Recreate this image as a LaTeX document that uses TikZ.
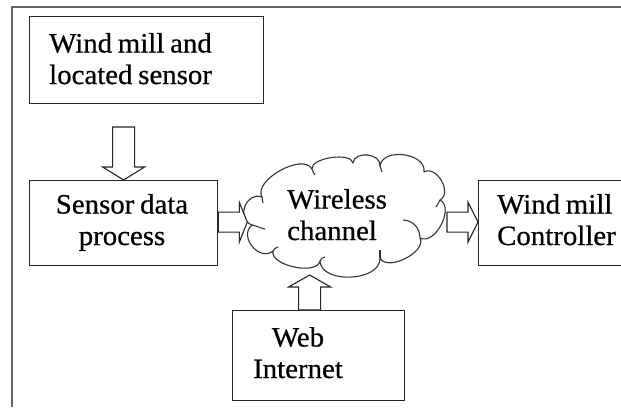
\documentclass[tikz,border=0pt]{standalone}
\usepackage{fontspec}
\setmainfont{Liberation Serif}[FakeStretch=1.03, WordSpace=0.8, FakeBold=0.6]
\usetikzlibrary{calc}
\begin{document}
\begin{tikzpicture}[x=1pt,y=-1pt,
  box/.style={draw=black!85, line width=1.3pt, inner sep=0pt, anchor=north west},
  lbl/.style={font=\fontsize{28}{31.5}\selectfont, inner sep=0pt, anchor=base west},
  barrow/.style={draw=black!85, line width=1.1pt, fill=white, line join=miter},
  cloudline/.style={draw=black!80, line width=1.1pt, line join=round},
  puff/.style={bend left=90, looseness=#1}]
\useasboundingbox (0,0) rectangle (621,407);
\draw[black!60, line width=1.5pt] (12,407) -- (12,7) -- (621,7);
% boxes
\node[box, minimum width=234pt, minimum height=87pt] (b1) at (29,16) {};
\node[box, minimum width=188pt, minimum height=85pt] (b2) at (29,180) {};
\node[box, minimum width=160pt, minimum height=85pt] (b3) at (478,180) {};
\node[box, minimum width=172pt, minimum height=90pt] (b4) at (232,310) {};
% cloud junctions
\coordinate (ja) at (262,197);
\coordinate (jb) at (312,169);
\coordinate (jc) at (353,163);
\coordinate (jd) at (380,166);
\coordinate (je) at (424,172);
\coordinate (jf) at (440,200);
\coordinate (jg) at (420,238);
\coordinate (jh) at (380,258);
\coordinate (ji) at (320,261);
\coordinate (jj) at (273,251);
\coordinate (jk) at (252,225);
\draw[cloudline, fill=white] (ja) to[puff=0.85] (jb) to[puff=0.7] (jc) to[puff=1.2] (jd)
  to[puff=1.1] (je) to[puff=1.15] (jf) to[puff=1.0] (jg) to[puff=0.9] (jh)
  to[puff=1.0] (ji) to[puff=0.8] (jj) to[puff=1.35] (jk) to[puff=1.5] (ja) -- cycle;
% inner curls
\draw[cloudline] (jg) to[out=90, in=0] ($(jg)+(-17,-18)$);
\draw[cloudline] (jk) to[out=-10, in=170] ($(jk)+(13,4)$);
\draw[cloudline] (ja) to[out=-80, in=100] ($(ja)+(1,6)$);
\draw[cloudline] (jb) to[out=-80, in=120] ($(jb)+(3,6)$);
\draw[cloudline] (jd) to[out=-80, in=110] ($(jd)+(2,6)$);
\draw[cloudline] (jf) to[out=-110, in=60] ($(jf)+(-4,7)$);
\draw[cloudline] (jh) to[out=90, in=-90] ($(jh)+(0,-8)$);
\draw[cloudline] (ji) to[out=60, in=180] ($(ji)+(5,-4)$);
\draw[cloudline] (jj) to[out=60, in=190] ($(jj)+(5,-4)$);
% texts
\node[lbl, align=left] (t1) at (49,84) {Wind mill and\\located sensor};
\node[lbl, align=center, anchor=base] (t2) at (122,245) {Sensor data\\process};
\node[lbl, align=left] (t3) at (287,240) {Wireless\\channel};
\node[lbl, align=left] (t5) at (497,245) {Wind mill\\Controller};
\node[lbl, align=center, anchor=base] (t4) at (298,378) {Web\\Internet};
% block arrows
\draw[barrow] ($(b2.north)+(-11,-53)$) -- ++(22,0) -- ++(0,40) -- ++(10,0)
  -- (b2.north) -- ($(b2.north)+(-21,-13)$) -- ++(10,0) -- cycle;
\draw[barrow] ($(b2.east)+(0,-11)$) -- ++(21,0) -- ++(0,-10) -- ($(b2.east)+(29,-1)$)
  -- ($(b2.east)+(21,19)$) -- ++(0,-10) -- ++(-21,0) -- cycle;
\draw[barrow] ($(b3.west)+(-31,-11)$) -- ++(21,0) -- ++(0,-10) -- ($(b3.west)+(0,-1)$)
  -- ($(b3.west)+(-10,19)$) -- ++(0,-10) -- ++(-21,0) -- cycle;
\draw[barrow] ($(b4.north)+(-20,0)$) -- ++(0,-23) -- ++(-10,0) -- ($(b4.north)+(-9,-35)$)
  -- ($(b4.north)+(12,-23)$) -- ++(-10,0) -- ++(0,23) -- cycle;
\end{tikzpicture}
\end{document}
